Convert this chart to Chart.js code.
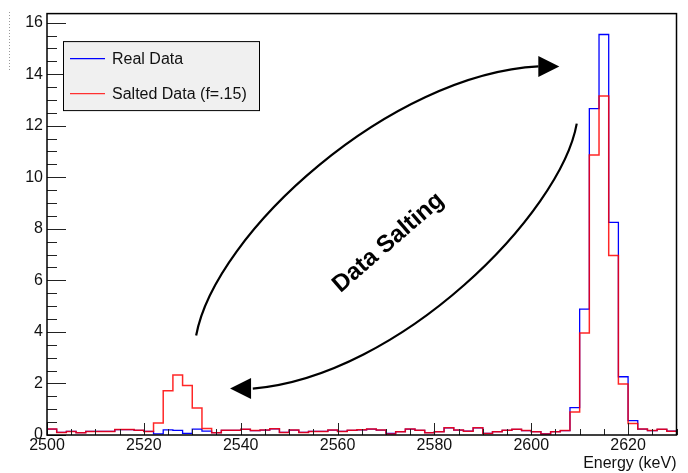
<!DOCTYPE html>
<html>
<head>
<meta charset="utf-8">
<script src="https://cdn.jsdelivr.net/npm/chart.js@4.4.1/dist/chart.umd.min.js"></script>
<style>
  html, body { margin: 0; padding: 0; background: #fff; }
  #wrap { width: 688px; height: 473px; }
</style>
</head>
<body>
<div id="wrap"><canvas id="grafica" width="688" height="473"></canvas></div>
<script>
// Histogram binning (keV)
const BIN_START = 2500;
const BIN_WIDTH = 2;
const X_MIN = 2500, X_MAX = 2630;
const Y_MIN = 0, Y_MAX = 16.35;
const X_TICKS = [2500, 2520, 2540, 2560, 2580, 2600, 2620];
const Y_TICKS = [0, 2, 4, 6, 8, 10, 12, 14, 16];

const SERIES_LABELS = ['Real Data', 'Salted Data (f=.15)'];
const X_TITLE = 'Energy (keV)';
const NOTE_TEXT = 'Data Salting';

// counts per 2 keV bin, 2500 -> 2630
const realData = [
  0.23, 0.10, 0.14, 0.09, 0.14, 0.14, 0.14, 0.21, 0.21, 0.18,
  0.14, 0.04, 0.20, 0.18, 0.06, 0.23, 0.15, 0.09, 0.18, 0.18,
  0.22, 0.17, 0.19, 0.24, 0.10, 0.19, 0.10, 0.14, 0.14, 0.19,
  0.14, 0.18, 0.20, 0.23, 0.19, 0.06, 0.13, 0.23, 0.18, 0.09,
  0.13, 0.28, 0.19, 0.15, 0.28, 0.06, 0.13, 0.18, 0.22, 0.17,
  0.13, 0.04, 0.13, 0.17, 1.06, 4.88, 12.66, 15.54, 8.25, 2.26,
  0.56, 0.23, 0.17, 0.22, 0.15
];
const saltedData = [
  0.23, 0.10, 0.14, 0.09, 0.14, 0.14, 0.14, 0.21, 0.21, 0.18,
  0.14, 0.47, 1.72, 2.33, 1.92, 1.05, 0.25, 0.09, 0.18, 0.18,
  0.22, 0.17, 0.19, 0.24, 0.10, 0.19, 0.10, 0.14, 0.14, 0.19,
  0.14, 0.18, 0.20, 0.23, 0.19, 0.04, 0.13, 0.23, 0.18, 0.09,
  0.13, 0.28, 0.19, 0.15, 0.28, 0.06, 0.13, 0.18, 0.22, 0.17,
  0.13, 0.04, 0.13, 0.17, 0.89, 3.96, 10.86, 13.15, 6.96, 1.98,
  0.45, 0.23, 0.17, 0.22, 0.15
];

const FONT = '"Liberation Sans", Arial, Helvetica, sans-serif';

// bin edges -> stepped points (last value repeated at the upper edge)
const toSteps = vals => vals
  .map((v, i) => ({ x: BIN_START + i * BIN_WIDTH, y: v }))
  .concat([{ x: BIN_START + vals.length * BIN_WIDTH, y: vals[vals.length - 1] }]);

const COLORS = ['#0000ff', 'rgba(255,0,0,0.85)'];

// ROOT-like frame, inner ticks, legend box and arrows
const rootStyle = {
  id: 'rootStyle',
  afterDraw(chart) {
    const { ctx, chartArea: a, scales: { x, y } } = chart;
    const P = (kx, vy) => [x.getPixelForValue(kx), y.getPixelForValue(vy)];
    ctx.save();

    // inner ticks
    ctx.strokeStyle = '#222';
    ctx.lineWidth = 1;
    ctx.beginPath();
    for (let v = Y_MIN; v <= Y_MAX + 1e-9; v += 0.5) {
      const py = Math.round(y.getPixelForValue(v)) + 0.5;
      const major = Math.abs(v / 2 - Math.round(v / 2)) < 1e-6;
      ctx.moveTo(a.left, py);
      ctx.lineTo(a.left + (major ? 19 : 10), py);
    }
    for (let v = X_MIN; v <= X_MAX; v += 5) {
      const px = Math.round(x.getPixelForValue(v)) + 0.5;
      const major = v % 20 === 0;
      ctx.moveTo(px, a.bottom);
      ctx.lineTo(px, a.bottom - (major ? 12 : 6));
    }
    ctx.stroke();

    // frame
    ctx.strokeStyle = '#000';
    ctx.lineWidth = 1.5;
    ctx.strokeRect(a.left, a.top, a.right - a.left, a.bottom - a.top);

    // faint dotted mark at far left
    ctx.save();
    ctx.strokeStyle = '#999';
    ctx.lineWidth = 1;
    ctx.setLineDash([1, 2]);
    ctx.beginPath();
    ctx.moveTo(9.5, 12);
    ctx.lineTo(9.5, 70);
    ctx.stroke();
    ctx.restore();

    // legend
    const lx = a.left + 16, ly = a.top + 27.5, lw = 196, lh = 69;
    ctx.fillStyle = '#f0f0f0';
    ctx.fillRect(lx, ly, lw, lh);
    ctx.strokeStyle = '#000';
    ctx.lineWidth = 1;
    ctx.strokeRect(lx + 0.5, ly + 0.5, lw, lh);
    ctx.font = '16px ' + FONT;
    ctx.textBaseline = 'middle';
    ctx.textAlign = 'left';
    SERIES_LABELS.forEach((lab, i) => {
      const yy = ly + 17.5 + i * 35;
      ctx.strokeStyle = i === 0 ? '#0000ff' : '#ff3030';
      ctx.lineWidth = 1.2;
      ctx.beginPath();
      ctx.moveTo(lx + 7, yy);
      ctx.lineTo(lx + 42, yy);
      ctx.stroke();
      ctx.fillStyle = '#111';
      ctx.fillText(lab, lx + 49, yy + 1);
    });

    // curved arrows (in data coordinates)
    const arrow = (pts, tip) => {
      const p = pts.map(q => P(q[0], q[1]));
      const t = P(tip[0], tip[1]);
      ctx.strokeStyle = '#000';
      ctx.lineWidth = 2.2;
      ctx.beginPath();
      ctx.moveTo(p[0][0], p[0][1]);
      ctx.bezierCurveTo(p[1][0], p[1][1], p[2][0], p[2][1], p[3][0], p[3][1]);
      ctx.stroke();
      const dx = t[0] - p[3][0], dy = t[1] - p[3][1];
      const len = Math.hypot(dx, dy) || 1;
      const ux = dx / len, uy = dy / len;
      const bx = t[0] - ux * 21, by = t[1] - uy * 21;
      ctx.fillStyle = '#000';
      ctx.beginPath();
      ctx.moveTo(t[0], t[1]);
      ctx.lineTo(bx - uy * 10.5, by + ux * 10.5);
      ctx.lineTo(bx + uy * 10.5, by - ux * 10.5);
      ctx.closePath();
      ctx.fill();
    };
    arrow([[2530.8, 3.86], [2534.7, 7.84], [2570.9, 14.0], [2601.5, 14.3]], [2605.8, 14.3]);
    arrow([[2609.4, 12.08], [2606.1, 8.60], [2573.0, 2.29], [2542.5, 1.80]], [2537.8, 1.80]);

    // rotated label
    const c = P(2570.5, 7.46);
    ctx.translate(c[0], c[1]);
    ctx.rotate(-41 * Math.PI / 180);
    ctx.font = 'bold 24px ' + FONT;
    ctx.fillStyle = '#000';
    ctx.textAlign = 'center';
    ctx.textBaseline = 'middle';
    ctx.fillText(NOTE_TEXT, 0, 0);

    ctx.restore();
  }
};

new Chart(document.getElementById('grafica'), {
  type: 'line',
  data: {
    datasets: [
      {
        label: SERIES_LABELS[0],
        data: toSteps(realData),
        borderColor: COLORS[0],
        borderWidth: 1.3,
        stepped: 'before',
        pointRadius: 0,
        fill: false,
        order: 1
      },
      {
        label: SERIES_LABELS[1],
        data: toSteps(saltedData),
        borderColor: COLORS[1],
        borderWidth: 1.5,
        stepped: 'before',
        pointRadius: 0,
        fill: false,
        order: 0
      }
    ]
  },
  options: {
    responsive: false,
    animation: false,
    devicePixelRatio: 1,
    layout: { padding: { top: 7.5, right: 11.5, left: 0, bottom: 0 } },
    plugins: {
      legend: { display: false },
      tooltip: { enabled: false }
    },
    scales: {
      x: {
        type: 'linear',
        min: X_MIN,
        max: X_MAX,
        afterBuildTicks: s => { s.ticks = X_TICKS.map(v => ({ value: v })); },
        afterFit: s => { s.height = 38; },
        grid: { display: false, drawTicks: false },
        border: { display: false },
        ticks: {
          color: '#111',
          font: { family: FONT, size: 16 },
          padding: 1,
          maxRotation: 0,
          autoSkip: false,
          callback: v => String(v)
        },
        title: {
          display: true,
          text: X_TITLE,
          align: 'end',
          color: '#111',
          font: { family: FONT, size: 16 },
          padding: { top: 0, bottom: 0 }
        }
      },
      y: {
        min: Y_MIN,
        max: Y_MAX,
        afterBuildTicks: s => { s.ticks = Y_TICKS.map(v => ({ value: v })); },
        afterFit: s => { s.width = 47; },
        grid: { display: false, drawTicks: false },
        border: { display: false },
        ticks: {
          color: '#111',
          font: { family: FONT, size: 16 },
          padding: 4,
          callback: v => String(v)
        }
      }
    }
  },
  plugins: [rootStyle]
});
</script>
</body>
</html>
